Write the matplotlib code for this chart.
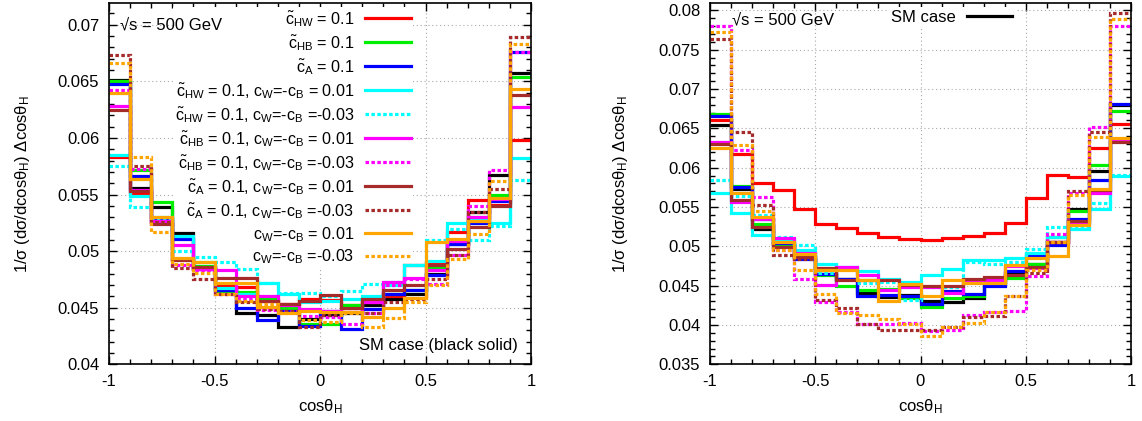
import numpy as np
import matplotlib
matplotlib.use("Agg")
import matplotlib.pyplot as plt
from matplotlib.ticker import MultipleLocator, FuncFormatter

plt.rcParams['font.family'] = ['Liberation Sans', 'DejaVu Sans']
plt.rcParams['mathtext.fontset'] = 'custom'
plt.rcParams['mathtext.rm'] = 'Liberation Sans'
plt.rcParams['mathtext.it'] = 'Liberation Sans'
plt.rcParams['mathtext.bf'] = 'Liberation Sans'

# ---------------- data ----------------
bin_edges = np.round(np.linspace(-1.0, 1.0, 21), 2)

# Left panel (sqrt(s)=500 GeV, CP-odd couplings)
left_sm = [0.0651, 0.0556, 0.0539, 0.0516, 0.0486, 0.0466, 0.0445, 0.0444, 0.0433, 0.0440,
           0.0444, 0.0445, 0.0452, 0.0458, 0.0462, 0.0480, 0.0506, 0.0535, 0.0567, 0.0657]
left_chw = [0.0583, 0.0551, 0.0526, 0.0493, 0.0484, 0.0470, 0.0468, 0.0456, 0.0453, 0.0458,
            0.0457, 0.0452, 0.0455, 0.0460, 0.0488, 0.0490, 0.0517, 0.0545, 0.0541, 0.0598]
left_chb = [0.0650, 0.0572, 0.0543, 0.0493, 0.0487, 0.0465, 0.0464, 0.0458, 0.0450, 0.0436,
            0.0436, 0.0452, 0.0456, 0.0462, 0.0466, 0.0485, 0.0508, 0.0530, 0.0550, 0.0654]
left_ca = [0.0648, 0.0566, 0.0528, 0.0511, 0.0484, 0.0466, 0.0450, 0.0439, 0.0447, 0.0434,
           0.0447, 0.0431, 0.0449, 0.0462, 0.0466, 0.0479, 0.0506, 0.0525, 0.0544, 0.0676]
left_chw_p = [0.0585, 0.0549, 0.0530, 0.0513, 0.0490, 0.0467, 0.0462, 0.0472, 0.0462, 0.0455,
              0.0456, 0.0458, 0.0460, 0.0470, 0.0488, 0.0491, 0.0525, 0.0528, 0.0525, 0.0582]
left_chw_m = [0.0575, 0.0539, 0.0528, 0.0500, 0.0495, 0.0490, 0.0484, 0.0472, 0.0463, 0.0463,
              0.0460, 0.0465, 0.0471, 0.0473, 0.0488, 0.0510, 0.0520, 0.0510, 0.0522, 0.0563]
left_chb_p = [0.0628, 0.0554, 0.0527, 0.0505, 0.0484, 0.0483, 0.0460, 0.0460, 0.0452, 0.0449,
              0.0447, 0.0446, 0.0455, 0.0473, 0.0476, 0.0483, 0.0509, 0.0530, 0.0546, 0.0627]
left_chb_m = [0.0642, 0.0573, 0.0527, 0.0488, 0.0483, 0.0462, 0.0458, 0.0448, 0.0447, 0.0443,
              0.0442, 0.0436, 0.0445, 0.0470, 0.0475, 0.0471, 0.0497, 0.0540, 0.0572, 0.0676]
left_ca_p = [0.0625, 0.0553, 0.0524, 0.0492, 0.0486, 0.0476, 0.0476, 0.0456, 0.0453, 0.0456,
             0.0461, 0.0450, 0.0458, 0.0466, 0.0470, 0.0488, 0.0502, 0.0521, 0.0540, 0.0638]
left_ca_m = [0.0673, 0.0575, 0.0526, 0.0485, 0.0475, 0.0462, 0.0455, 0.0449, 0.0447, 0.0433,
             0.0444, 0.0446, 0.0445, 0.0455, 0.0458, 0.0475, 0.0497, 0.0535, 0.0555, 0.0689]
left_cw_p = [0.0640, 0.0564, 0.0530, 0.0494, 0.0490, 0.0472, 0.0472, 0.0451, 0.0445, 0.0447,
             0.0446, 0.0446, 0.0442, 0.0450, 0.0459, 0.0508, 0.0511, 0.0527, 0.0547, 0.0643]
left_cw_m = [0.0666, 0.0583, 0.0517, 0.0489, 0.0481, 0.0462, 0.0456, 0.0453, 0.0445, 0.0439,
             0.0437, 0.0445, 0.0433, 0.0441, 0.0455, 0.0470, 0.0493, 0.0515, 0.0562, 0.0683]

# Right panel
right_sm = [0.0654, 0.0573, 0.0522, 0.0500, 0.0486, 0.0465, 0.0459, 0.0441, 0.0435, 0.0438,
            0.0431, 0.0429, 0.0434, 0.0452, 0.0466, 0.0477, 0.0506, 0.0548, 0.0596, 0.0680]
right_chw = [0.0660, 0.0618, 0.0581, 0.0572, 0.0548, 0.0528, 0.0523, 0.0517, 0.0512, 0.0509,
             0.0508, 0.0510, 0.0513, 0.0517, 0.0530, 0.0562, 0.0591, 0.0588, 0.0625, 0.0656]
right_chb = [0.0668, 0.0577, 0.0528, 0.0503, 0.0487, 0.0463, 0.0449, 0.0445, 0.0446, 0.0434,
             0.0423, 0.0434, 0.0437, 0.0455, 0.0460, 0.0478, 0.0512, 0.0545, 0.0604, 0.0672]
right_ca = [0.0666, 0.0575, 0.0535, 0.0504, 0.0484, 0.0465, 0.0458, 0.0437, 0.0438, 0.0437,
            0.0427, 0.0443, 0.0439, 0.0449, 0.0468, 0.0488, 0.0502, 0.0535, 0.0584, 0.0681]
right_chw_p = [0.0568, 0.0543, 0.0515, 0.0508, 0.0495, 0.0477, 0.0474, 0.0468, 0.0458, 0.0455,
               0.0463, 0.0471, 0.0482, 0.0483, 0.0485, 0.0492, 0.0512, 0.0522, 0.0547, 0.0589]
right_chw_m = [0.0584, 0.0564, 0.0540, 0.0512, 0.0502, 0.0466, 0.0473, 0.0453, 0.0455, 0.0432,
               0.0448, 0.0448, 0.0480, 0.0477, 0.0480, 0.0497, 0.0524, 0.0525, 0.0555, 0.0591]
right_chb_p = [0.0633, 0.0556, 0.0535, 0.0510, 0.0492, 0.0451, 0.0474, 0.0464, 0.0445, 0.0448,
               0.0448, 0.0441, 0.0457, 0.0457, 0.0475, 0.0473, 0.0506, 0.0530, 0.0568, 0.0635]
right_chb_m = [0.0780, 0.0622, 0.0563, 0.0495, 0.0459, 0.0429, 0.0417, 0.0401, 0.0401, 0.0403,
               0.0392, 0.0394, 0.0413, 0.0416, 0.0418, 0.0462, 0.0516, 0.0568, 0.0652, 0.0780]
right_ca_p = [0.0630, 0.0559, 0.0524, 0.0499, 0.0487, 0.0472, 0.0457, 0.0457, 0.0457, 0.0451,
              0.0450, 0.0450, 0.0459, 0.0461, 0.0464, 0.0474, 0.0506, 0.0532, 0.0571, 0.0633]
right_ca_m = [0.0763, 0.0645, 0.0552, 0.0489, 0.0484, 0.0432, 0.0421, 0.0401, 0.0394, 0.0393,
              0.0394, 0.0397, 0.0410, 0.0411, 0.0437, 0.0466, 0.0506, 0.0570, 0.0645, 0.0797]
right_cw_p = [0.0625, 0.0568, 0.0537, 0.0505, 0.0490, 0.0470, 0.0470, 0.0457, 0.0431, 0.0452,
              0.0437, 0.0457, 0.0453, 0.0453, 0.0476, 0.0485, 0.0488, 0.0527, 0.0573, 0.0638]
right_cw_m = [0.0772, 0.0629, 0.0545, 0.0495, 0.0470, 0.0440, 0.0415, 0.0413, 0.0408, 0.0401,
              0.0386, 0.0397, 0.0402, 0.0416, 0.0437, 0.0470, 0.0505, 0.0565, 0.0639, 0.0789]

series_labels = [
    r'$\mathregular{\tilde{c}_{HW}}$ = 0.1',
    r'$\mathregular{\tilde{c}_{HB}}$ = 0.1',
    r'$\mathregular{\tilde{c}_{A}}$ = 0.1',
    r'$\mathregular{\tilde{c}_{HW}}$ = 0.1, $\mathregular{c_W}$=-$\mathregular{c_B}$ = 0.01',
    r'$\mathregular{\tilde{c}_{HW}}$ = 0.1, $\mathregular{c_W}$=-$\mathregular{c_B}$ =-0.03',
    r'$\mathregular{\tilde{c}_{HB}}$ = 0.1, $\mathregular{c_W}$=-$\mathregular{c_B}$ = 0.01',
    r'$\mathregular{\tilde{c}_{HB}}$ = 0.1, $\mathregular{c_W}$=-$\mathregular{c_B}$ =-0.03',
    r'$\mathregular{\tilde{c}_{A}}$ = 0.1, $\mathregular{c_W}$=-$\mathregular{c_B}$ = 0.01',
    r'$\mathregular{\tilde{c}_{A}}$ = 0.1, $\mathregular{c_W}$=-$\mathregular{c_B}$ =-0.03',
    r'$\mathregular{c_W}$=-$\mathregular{c_B}$ = 0.01',
    r'$\mathregular{c_W}$=-$\mathregular{c_B}$ =-0.03',
]
series_colors = ['#ff0000', '#00ee00', '#0000ff', '#00ffff', '#00ffff', '#ff00ff', '#ff00ff',
                 '#a52a2a', '#a52a2a', '#ffa500', '#ffa500']
dotted = (0, (1.1, 0.75))
series_styles = ['-', '-', '-', '-', dotted, '-', dotted, '-', dotted, '-', dotted]

left_series = [left_chw, left_chb, left_ca, left_chw_p, left_chw_m, left_chb_p, left_chb_m,
               left_ca_p, left_ca_m, left_cw_p, left_cw_m]
right_series = [right_chw, right_chb, right_ca, right_chw_p, right_chw_m, right_chb_p, right_chb_m,
                right_ca_p, right_ca_m, right_cw_p, right_cw_m]

xticks = [-1, -0.5, 0, 0.5, 1]
ylabel = r'1/σ (dσ/dcosθ$_\mathregular{H}$) Δcosθ$_\mathregular{H}$'
xlabel = r'cosθ$_\mathregular{H}$'

FS = 12
LEG_FS = 11.6
LW = 2.3

fig = plt.figure(figsize=(11.42, 4.21), dpi=100)
H = 421.0
W = 1142.0
axL = fig.add_axes([109 / W, 1 - 364.3 / H, (531 - 109) / W, (364.3 - 3.3) / H])
axR = fig.add_axes([710 / W, 1 - 364.3 / H, (1131 - 710) / W, (364.3 - 3.3) / H])


def style_axis(ax, ylim):
    ax.set_xlim(-1, 1)
    ax.set_ylim(*ylim)
    ax.set_xticks(xticks)
    ax.xaxis.set_minor_locator(MultipleLocator(0.1))
    ax.yaxis.set_major_locator(MultipleLocator(0.005))
    ax.yaxis.set_minor_locator(MultipleLocator(0.001))
    ax.xaxis.set_major_formatter(FuncFormatter(lambda v, p: '%g' % v))
    ax.yaxis.set_major_formatter(FuncFormatter(lambda v, p: '%g' % round(v, 4)))
    ax.tick_params(which='both', direction='in', top=True, right=True, labelsize=FS, width=1)
    ax.tick_params(which='major', length=6)
    ax.tick_params(which='minor', length=3.5)
    ax.tick_params(axis='y', pad=7)
    ax.tick_params(axis='x', pad=7)
    ax.grid(True, which='major', linestyle=(0, (1, 2.5)), color='#a8a8a8', linewidth=0.8)
    ax.set_axisbelow(True)
    for s in ax.spines.values():
        s.set_linewidth(1.2)
    ax.set_ylabel(ylabel, fontsize=FS)
    ax.set_xlabel(xlabel, fontsize=FS)


# Left panel
axL.stairs(left_sm, bin_edges, color='black', linewidth=LW, baseline=None, zorder=2)
handles = []
for vals, lab, col, ls in zip(left_series, series_labels, series_colors, series_styles):
    h = axL.stairs(vals, bin_edges, color=col, linestyle=ls, linewidth=LW, baseline=None,
                   label=lab, zorder=2)
    handles.append(h)
style_axis(axL, (0.04, 0.0719))
axL.yaxis.set_label_coords(-0.182, 0.5)
axL.xaxis.set_label_coords(0.5, -0.092)
leg = axL.legend(loc='upper right', bbox_to_anchor=(0.728, 1.0), fontsize=LEG_FS,
                 markerfirst=False, handlelength=2.8, handletextpad=0.68, labelspacing=0.26,
                 borderpad=0.15, frameon=True, facecolor='white', edgecolor='none',
                 framealpha=1.0, fancybox=False, borderaxespad=0.2)
leg.set_zorder(1.5)
axL.text(0.026, 0.94, '√s = 500 GeV', transform=axL.transAxes, fontsize=FS,
         va='center', ha='left', zorder=3)
axL.text(0.969, 0.053, 'SM case (black solid)', transform=axL.transAxes, fontsize=FS,
         va='center', ha='right', zorder=3)

# Right panel
smR = axR.stairs(right_sm, bin_edges, color='black', linewidth=LW, baseline=None,
                 label='SM case', zorder=2)
for vals, col, ls in zip(right_series, series_colors, series_styles):
    axR.stairs(vals, bin_edges, color=col, linestyle=ls, linewidth=LW, baseline=None, zorder=2)
style_axis(axR, (0.035, 0.0809))
axR.yaxis.set_label_coords(-0.19, 0.5)
axR.xaxis.set_label_coords(0.5, -0.092)
legR = axR.legend(handles=[smR], loc='upper right', bbox_to_anchor=(0.733, 1.0), fontsize=FS,
                  markerfirst=False, handlelength=2.7, handletextpad=0.66, borderpad=0.2,
                  frameon=True, facecolor='white', edgecolor='none', framealpha=1.0,
                  fancybox=False, borderaxespad=0.2)
legR.set_zorder(1.5)
axR.text(0.052, 0.954, '√s = 500 GeV', transform=axR.transAxes, fontsize=FS,
         va='center', ha='left', zorder=3)

fig.savefig('out.png', dpi=100)
